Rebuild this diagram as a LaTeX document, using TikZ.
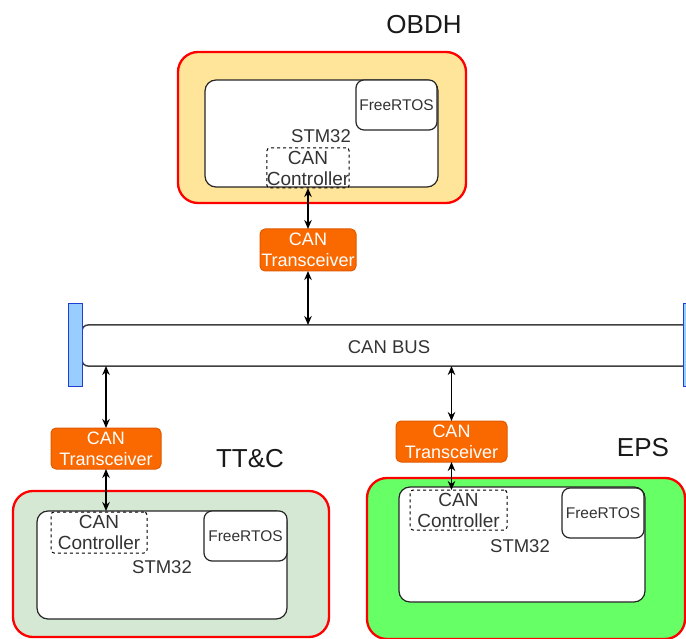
\documentclass[tikz,border=0pt]{standalone}
\usepackage{fontspec}
\setmainfont{Liberation Sans}
\usetikzlibrary{arrows.meta}
\definecolor{obdhfill}{HTML}{FFE599}
\definecolor{ttcfill}{HTML}{D5E8D4}
\definecolor{epsfill}{HTML}{66FF66}
\definecolor{trxfill}{HTML}{FA6800}
\definecolor{trxline}{HTML}{E05A00}
\definecolor{barfill}{HTML}{99CCFF}
\definecolor{barline}{HTML}{1F3FD0}
\definecolor{txt}{HTML}{333333}
\tikzset{
  every node/.style={inner sep=0pt, outer sep=0pt, text=txt},
  subsys/.style={draw=red, line width=2.3pt, rounded corners=20pt},
  mcu/.style={draw=black!85, fill=white, line width=1.2pt, rounded corners=11pt},
  rtos/.style={draw=black!85, fill=white, line width=1.2pt, rounded corners=8pt, font=\fontsize{15.5}{18}\selectfont},
  ctrl/.style={draw=black, dashed, line width=1pt, rounded corners=3pt, align=center, font=\fontsize{19}{21}\selectfont},
  trx/.style={draw=trxline, fill=trxfill, line width=1pt, rounded corners=5pt, align=center, text=white, font=\fontsize{18}{21}\selectfont},
  bar/.style={draw=barline, fill=barfill, line width=1pt},
  title/.style={font=\fontsize{26}{30}\selectfont, text=black!90},
  lbl/.style={font=\fontsize{18.5}{21}\selectfont},
  link/.style={draw=black, line width=1.5pt, {Stealth[length=9pt,width=7.5pt]}-{Stealth[length=9pt,width=7.5pt]}}
}
\begin{document}
\begin{tikzpicture}[x=1pt,y=-1pt]
\useasboundingbox (0,0) rectangle (686,639);
\clip (0,0) rectangle (686,639);
\fill[white] (0,0) rectangle (686,639);

% CAN bus
\node[draw=black!75, fill=white, line width=1.5pt, rounded corners=6pt, minimum width=618pt, minimum height=41pt] (bus) at (391,345.5) {};
\node[lbl] (buslbl) at (389,347) {CAN BUS};
\node[bar, minimum width=14pt, minimum height=82pt] (barl) at (75,345) {};
\node[bar, minimum width=14pt, minimum height=82pt] (barr) at (690,345) {};

% OBDH
\node[title] (obdhlbl) at (424,25) {OBDH};
\node[subsys, fill=obdhfill, minimum width=288pt, minimum height=151pt] (obdh) at (322,127.5) {};
\node[mcu, minimum width=233pt, minimum height=107pt] (obdhstm) at (321.5,133.5) {};
\node[rtos, minimum width=81pt, minimum height=50pt] (obdhrtos) at (396.5,105) {FreeRTOS};
\node[lbl] (obdhstmlbl) at (321,136) {STM32};
\node[ctrl, minimum width=82pt, minimum height=40pt] (obdhctrl) at (308,168) {CAN\\Controller};
\node[trx, minimum width=96pt, minimum height=42pt] (obdhtrx) at (308,250) {CAN\\Transceiver};

% TT&C
\node[title] (ttclbl) at (250,459) {TT\&C};
\node[trx, minimum width=110pt, minimum height=41pt] (ttctrx) at (106,448.5) {CAN\\Transceiver};
\node[subsys, fill=ttcfill, minimum width=316pt, minimum height=146pt] (ttc) at (171,564) {};
\node[mcu, minimum width=250pt, minimum height=108pt] (ttcstm) at (162,565) {};
\node[ctrl, minimum width=96pt, minimum height=41pt] (ttcctrl) at (99,532.5) {CAN\\Controller};
\node[rtos, minimum width=83pt, minimum height=50pt] (ttcrtos) at (245.5,536) {FreeRTOS};
\node[lbl] (ttcstmlbl) at (162,567) {STM32};

% EPS
\node[title] (epslbl) at (643,448) {EPS};
\node[trx, minimum width=111pt, minimum height=41pt] (epstrx) at (451.5,441.5) {CAN\\Transceiver};
\node[subsys, fill=epsfill, minimum width=318pt, minimum height=161pt] (eps) at (526,558.5) {};
\node[mcu, minimum width=246pt, minimum height=115pt] (epsstm) at (522,544.5) {};
\node[ctrl, minimum width=97pt, minimum height=40pt] (epsctrl) at (458.5,510) {CAN\\Controller};
\node[rtos, minimum width=82pt, minimum height=50pt] (epsrtos) at (603,513) {FreeRTOS};
\node[lbl] (epsstmlbl) at (520,546) {STM32};

% connectors
\draw[link] (obdhctrl.south) -- (obdhtrx.north);
\draw[link] (obdhtrx.south) -- (obdhtrx.south |- bus.north);
\draw[link] (ttctrx.north |- bus.south) -- (ttctrx.north);
\draw[link] (ttctrx.south) -- (ttctrx.south |- ttcstm.north);
\draw[link] (epstrx.north |- bus.south) -- (epstrx.north);
\draw[link] (epstrx.south) -- (epstrx.south |- epsctrl.north);
\end{tikzpicture}
\end{document}
